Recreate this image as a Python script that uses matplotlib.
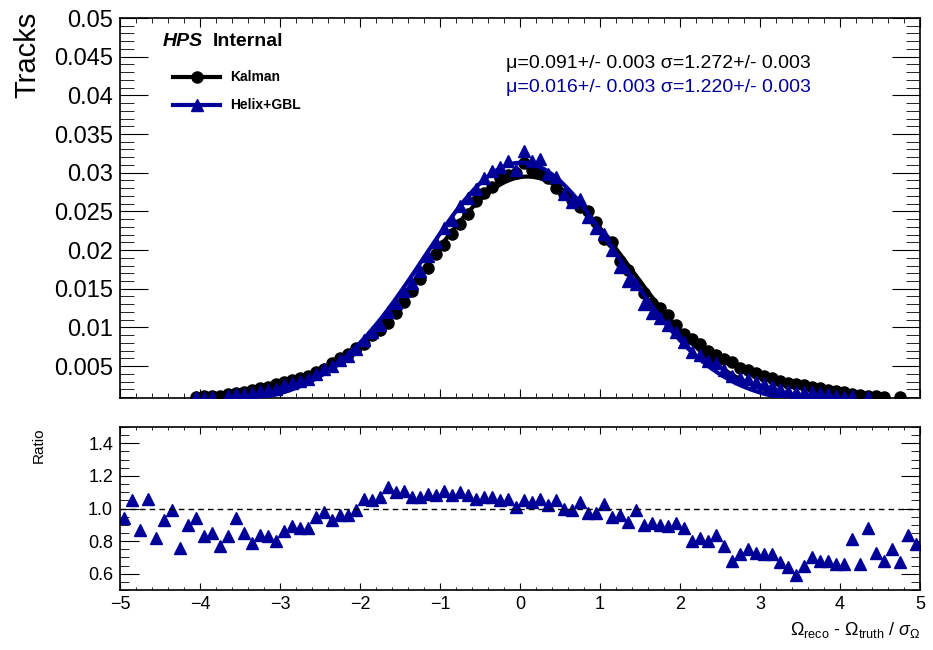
import numpy as np
import matplotlib
matplotlib.use("Agg")
import matplotlib.pyplot as plt

plt.rcParams['font.family'] = ['Liberation Sans', 'DejaVu Sans']
plt.rcParams['mathtext.fontset'] = 'custom'
plt.rcParams['mathtext.rm'] = 'Liberation Sans'
plt.rcParams['mathtext.it'] = 'Liberation Sans:italic'

# histogram: 100 bins from -5 to 5
bin_centers = np.linspace(-4.95, 4.95, 100)

# normalised track fraction per bin
kalman = [
    0.00055, 0.00058, 0.00062, 0.00066, 0.00070, 0.00074, 0.00078, 0.00082, 0.00086, 0.00100,
    0.00108, 0.00110, 0.00112, 0.00138, 0.00152, 0.00170, 0.00190, 0.00210, 0.00232, 0.00262,
    0.00290, 0.00315, 0.00345, 0.00375, 0.00420, 0.00465, 0.00540, 0.00600, 0.00660, 0.00730,
    0.00790, 0.00900, 0.00960, 0.01060, 0.01190, 0.01330, 0.01470, 0.01620, 0.01770, 0.01950,
    0.02060, 0.02210, 0.02340, 0.02470, 0.02630, 0.02740, 0.02820, 0.02930, 0.02970, 0.03000,
    0.03130, 0.03030, 0.03000, 0.02930, 0.02800, 0.02720, 0.02650, 0.02560, 0.02500, 0.02360,
    0.02140, 0.02100, 0.01860, 0.01740, 0.01580, 0.01440, 0.01310, 0.01250, 0.01160, 0.01030,
    0.00920, 0.00850, 0.00780, 0.00700, 0.00640, 0.00590, 0.00550, 0.00480, 0.00450, 0.00410,
    0.00375, 0.00345, 0.00305, 0.00285, 0.00272, 0.00255, 0.00235, 0.00215, 0.00195, 0.00180,
    0.00160, 0.00140, 0.00125, 0.00118, 0.00108, 0.00100, 0.00085, 0.00098, 0.00080, 0.00075,
]

# Helix+GBL / Kalman
ratio = [
    0.94, 1.05, 0.87, 1.06, 0.82, 0.93, 0.99, 0.76, 0.90, 0.94,
    0.83, 0.85, 0.77, 0.83, 0.94, 0.85, 0.79, 0.84, 0.83, 0.80,
    0.86, 0.89, 0.88, 0.88, 0.95, 0.98, 0.93, 0.96, 0.96, 0.99,
    1.06, 1.05, 1.07, 1.13, 1.10, 1.11, 1.07, 1.07, 1.09, 1.08,
    1.11, 1.08, 1.10, 1.08, 1.06, 1.07, 1.07, 1.05, 1.06, 1.01,
    1.05, 1.04, 1.06, 1.02, 1.05, 1.00, 0.99, 1.04, 0.97, 0.97,
    1.03, 0.95, 0.96, 0.92, 0.99, 0.90, 0.91, 0.90, 0.89, 0.91,
    0.88, 0.80, 0.82, 0.80, 0.84, 0.77, 0.68, 0.72, 0.75, 0.73,
    0.72, 0.72, 0.67, 0.64, 0.59, 0.65, 0.70, 0.68, 0.68, 0.66,
    0.66, 0.81, 0.66, 0.88, 0.73, 0.68, 0.75, 0.67, 0.84, 0.78,
]

# gaussian fit results (amplitude, mean, sigma)
kalman_fit = (0.0295, 0.091, 1.272)
helix_fit = (0.0313, 0.016, 1.220)

kalman = np.array(kalman)
ratio = np.array(ratio)
helix = kalman * ratio

blue = '#000099'
ymin = 0.00087

fig = plt.figure(figsize=(9.33, 6.5), dpi=100)
ax = fig.add_axes([120/933, 1-398/650, 800/933, 380/650])
axr = fig.add_axes([120/933, 1-590/650, 800/933, 163/650])

def gaus(x, p):
    return p[0]*np.exp(-0.5*((x-p[1])/p[2])**2)

xf = np.linspace(-5, 5, 500)
mk = kalman >= ymin
mh = helix >= ymin
ax.plot(bin_centers[mk], kalman[mk], 'o', color='black', ms=8, zorder=3)
ax.plot(xf, gaus(xf, kalman_fit), color='black', lw=3, zorder=4)
ax.plot(bin_centers[mh], helix[mh], '^', color=blue, ms=8, zorder=5)
ax.plot(xf, gaus(xf, helix_fit), color=blue, lw=3, zorder=6)

ax.set_xlim(-5, 5)
ax.set_ylim(ymin, 0.05)
ax.set_xticks(np.arange(-5, 6, 1))
ax.set_xticks(np.arange(-5, 5.01, 0.2), minor=True)
ax.set_yticks([0.005, 0.01, 0.015, 0.02, 0.025, 0.03, 0.035, 0.04, 0.045, 0.05])
ax.set_yticklabels(['0.005', '0.01', '0.015', '0.02', '0.025', '0.03', '0.035', '0.04', '0.045', '0.05'])
ax.set_yticks(np.arange(0.001, 0.0501, 0.001), minor=True)
ax.tick_params(axis='x', which='major', direction='in', top=True, bottom=True, length=6.5, labelbottom=False)
ax.tick_params(axis='x', which='minor', direction='in', top=True, bottom=True, length=3.5)
ax.tick_params(axis='y', which='major', direction='in', left=True, right=True, length=20, labelsize=17, pad=5)
ax.tick_params(axis='y', which='minor', direction='in', left=True, right=True, length=10)
for s in ax.spines.values():
    s.set_linewidth(1.2)

# ratio pad
axr.plot(bin_centers, ratio, '^', color=blue, ms=8)
axr.axhline(1.0, color='black', ls=(0, (4, 3)), lw=1)
axr.set_xlim(-5, 5)
axr.set_ylim(0.5, 1.5)
axr.set_xticks(np.arange(-5, 6, 1))
axr.set_xticks(np.arange(-5, 5.01, 0.2), minor=True)
axr.set_yticks([0.6, 0.8, 1.0, 1.2, 1.4])
axr.set_yticklabels(['0.6', '0.8', '1.0', '1.2', '1.4'])
axr.set_yticks(np.arange(0.5, 1.501, 0.05), minor=True)
axr.tick_params(axis='x', which='major', direction='in', top=True, bottom=True, length=5, labelsize=13, pad=4)
axr.tick_params(axis='x', which='minor', direction='in', top=True, bottom=True, length=2.5)
axr.tick_params(axis='y', which='major', direction='in', left=True, right=True, length=14, labelsize=13, pad=5)
axr.tick_params(axis='y', which='minor', direction='in', left=True, right=True, length=6.5)
for s in axr.spines.values():
    s.set_linewidth(1.2)

# texts
fig.text(27/933, 1-12/650, 'Tracks', rotation=90, ha='center', va='top', fontsize=21)
fig.text(39/933, 1-445/650, 'Ratio', rotation=90, ha='center', va='center', fontsize=11)
fig.text(921/933, 1-630/650, r'$\Omega_{\mathrm{reco}}$ - $\Omega_{\mathrm{truth}}$ / $\sigma_{\Omega}$',
         ha='right', va='center', fontsize=13)

fig.text(163/933, 1-46/650, 'HPS', fontsize=14, fontweight='bold', fontstyle='italic', ha='left', va='baseline')
fig.text(213/933, 1-46/650, 'Internal', fontsize=14, fontweight='bold', ha='left', va='baseline')

# legend entries
fig.lines.append(plt.Line2D([173/933, 196.5/933, 220/933], [1-77/650]*3, color='black', lw=3,
                            marker='o', ms=8, markevery=[1], transform=fig.transFigure))
fig.lines.append(plt.Line2D([173/933, 196.5/933, 220/933], [1-105/650]*3, color=blue, lw=3,
                            marker='^', ms=8, markevery=[1], transform=fig.transFigure))
fig.text(230/933, 1-77/650, 'Kalman', fontsize=10, fontweight='bold', ha='left', va='center')
fig.text(230/933, 1-105/650, 'Helix+GBL', fontsize=10, fontweight='bold', ha='left', va='center')

fig.text(506/933, 1-64/650, 'μ=%.3f+/- 0.003 σ=%.3f+/- 0.003' % (kalman_fit[1], kalman_fit[2]),
         fontsize=14, color='black', ha='left', va='center')
fig.text(506/933, 1-88/650, 'μ=%.3f+/- 0.003 σ=%.3f+/- 0.003' % (helix_fit[1], helix_fit[2]),
         fontsize=14, color=blue, ha='left', va='center')

fig.savefig('out.png', dpi=100)
